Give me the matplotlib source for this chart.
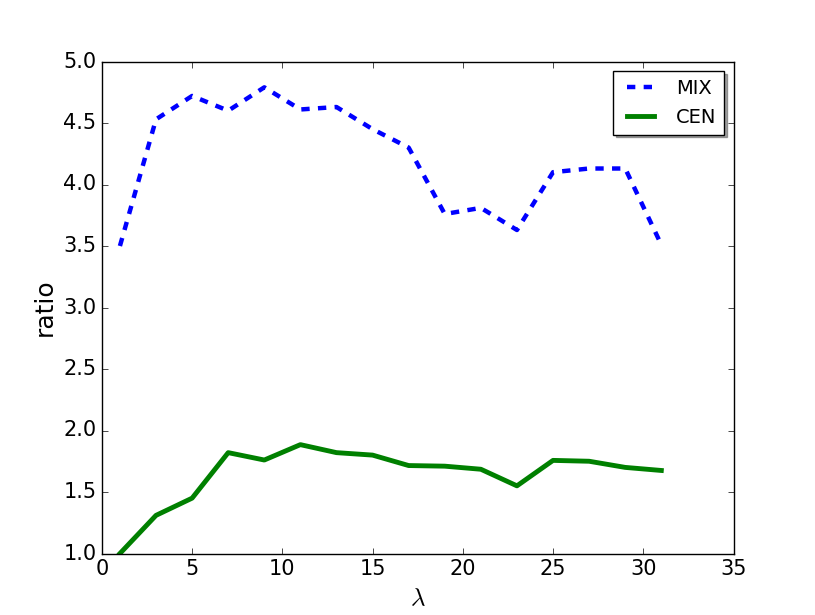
import matplotlib
matplotlib.use("Agg")
import matplotlib.pyplot as plt

plt.style.use("classic")
plt.rcParams["mathtext.fontset"] = "cm"

lam = [1, 3, 5, 7, 9, 11, 13, 15, 17, 19, 21, 23, 25, 27, 29, 31]
mix = [3.50, 4.53, 4.72, 4.60, 4.79, 4.61, 4.63, 4.45, 4.30, 3.76,
       3.81, 3.63, 4.10, 4.13, 4.13, 3.51]
cen = [1.00, 1.31, 1.45, 1.82, 1.76, 1.885, 1.82, 1.80, 1.715, 1.71,
       1.685, 1.55, 1.757, 1.75, 1.70, 1.675]

fig = plt.figure(figsize=(8.15, 6.15), dpi=100)
ax = fig.add_axes([0.125, 0.1, 0.775, 0.8])
ax.plot(lam, mix, "b--", lw=3.2, label="MIX")
ax.plot(lam, cen, "g-", lw=3.5, label="CEN")
ax.set_xlim(0, 35)
ax.set_ylim(1.0, 5.0)
ax.tick_params(labelsize=15)
ax.set_xlabel(r"$\lambda$", fontsize=18)
ax.set_ylabel("ratio", fontsize=18)
ax.legend(loc="upper right", shadow=True, fontsize=14)
fig.savefig("out.png", dpi=100)
